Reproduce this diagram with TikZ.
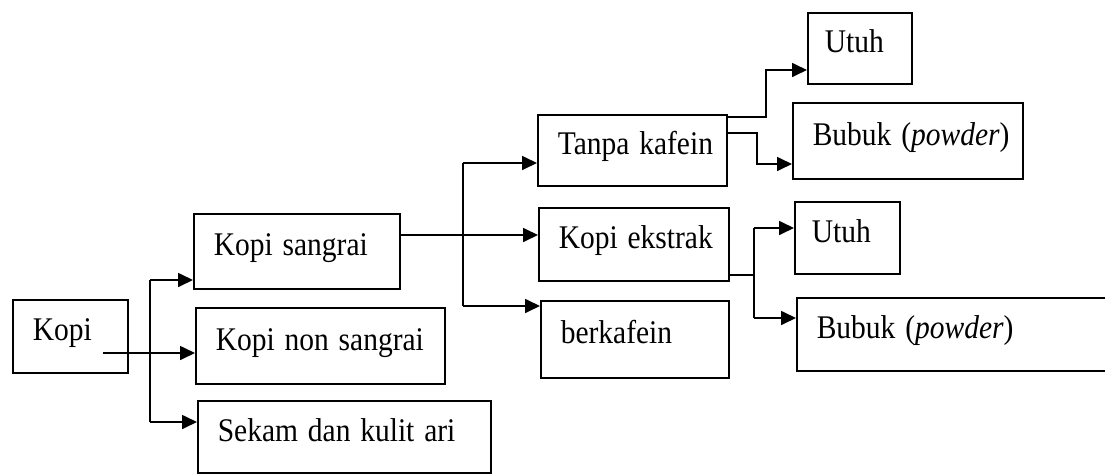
\documentclass[tikz,border=0pt]{standalone}
\usepackage{fontspec}
\setmainfont{Liberation Serif}
\usetikzlibrary{arrows.meta}
% labels are set slightly taller than the font's natural shape
\newcommand{\lbl}[1]{\scalebox{1}[1.12]{#1}}
\begin{document}
\begin{tikzpicture}[x=1pt,y=-1pt,
  box/.style={draw,line width=1.6pt,rectangle,anchor=north west,align=left,
    inner xsep=20pt,inner ysep=0pt,text height=18pt,text depth=9pt,
    font=\fontsize{29.5}{34}\selectfont},
  link/.style={line width=1.7pt},
  arr/.style={link,-{Triangle[length=15pt,width=14pt]}}]
\useasboundingbox (0,0) rectangle (1105,474);

% boxes
\node[box,text width=75pt,minimum height=73pt]  (kopi)    at (12,299)  {\lbl{Kopi}};
\node[box,text width=166pt,minimum height=75pt] (sangrai) at (193,213) {\lbl{Kopi sangrai}};
\node[box,text width=209pt,minimum height=76pt] (nons)    at (195,307) {\lbl{Kopi non sangrai}};
\node[box,text width=253pt,minimum height=72pt] (sekam)   at (197,400) {\lbl{Sekam dan kulit ari}};
\node[box,text width=149pt,minimum height=71pt] (tanpa)   at (537,114) {\lbl{Tanpa kafein}};
\node[box,text width=150pt,minimum height=73pt] (ekstrak) at (538,207) {\lbl{Kopi ekstrak}};
\node[box,text width=148pt,minimum height=77pt] (berk)    at (540,300) {\lbl{berkafein}};
\node[box,text width=70pt,inner xsep=17pt,minimum height=71pt] (utuhA) at (807,12) {\lbl{Utuh}};
\node[box,text width=190pt,minimum height=76pt] (bubukA)  at (792,102) {\lbl{Bubuk (\textit{powder})}};
\node[box,text width=71pt,inner xsep=17pt,minimum height=72pt] (utuhB) at (794,201) {\lbl{Utuh}};
\node[box,text width=280pt,minimum height=73pt] (bubukB)  at (796,297) {\lbl{Bubuk (\textit{powder})}};

% Kopi branches
\coordinate (k0) at (103,353);
\draw[arr] (k0) -- (k0 -| nons.west);
\coordinate (j1) at (150,280);
\coordinate (j2) at (150,422);
\draw[link] (j1) -- (j2);
\draw[arr] (j1) -- (j1 -| sangrai.west);
\draw[arr] (j2) -- (j2 -| sekam.west);

% Kopi sangrai branches
\coordinate (s0) at (399,235);
\draw[arr] (s0) -- (s0 -| ekstrak.west);
\coordinate (j3) at (463,163);
\coordinate (j4) at (463,306);
\draw[link] (j3) -- (j4);
\draw[arr] (j3) -- (j3 -| tanpa.west);
\draw[arr] (j4) -- (j4 -| berk.west);

% Tanpa kafein branches
\coordinate (t1) at (726,117);
\coordinate (t2) at (726,133);
\draw[arr] (t1) -- (766,117) |- (utuhA.west |- 0,70);
\draw[arr] (t2) -- (757,133) |- (bubukA.west |- 0,164);

% Kopi ekstrak branches
\coordinate (e0) at (728,275);
\coordinate (j5) at (754,228);
\coordinate (j6) at (754,318);
\draw[link] (e0) -- (754,275);
\draw[link] (j5) -- (j6);
\draw[arr] (j5) -- (j5 -| utuhB.west);
\draw[arr] (j6) -- (j6 -| bubukB.west);
\end{tikzpicture}
\end{document}
